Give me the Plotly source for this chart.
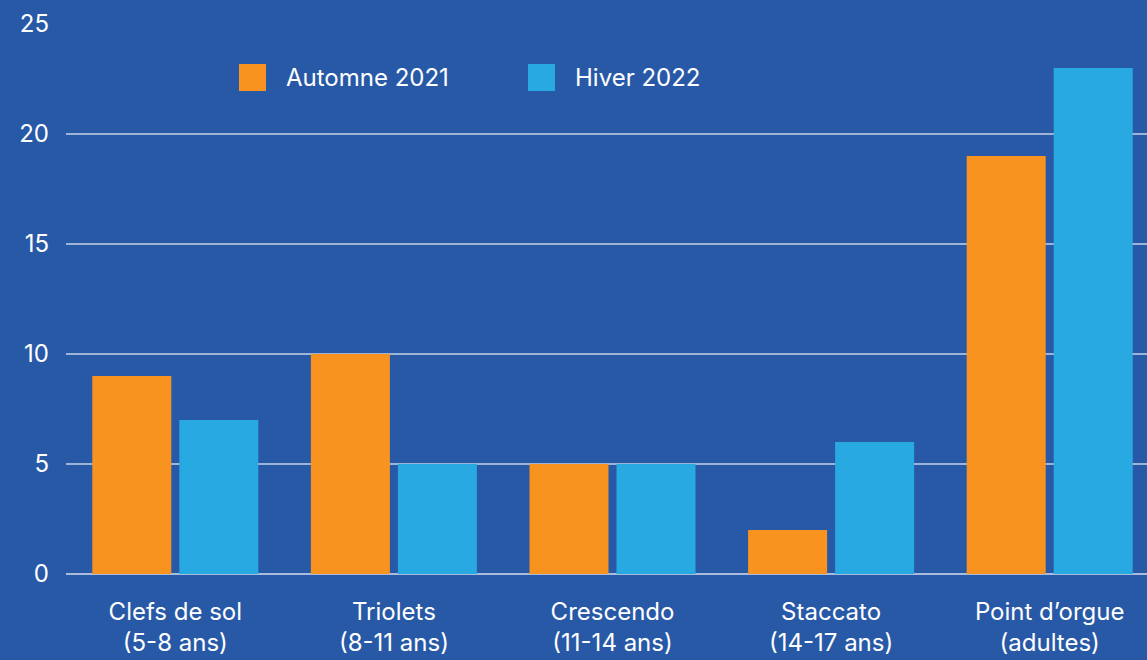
import plotly.graph_objects as go

categories = ["Clefs de sol<br>(5-8 ans)", "Triolets<br>(8-11 ans)", "Crescendo<br>(11-14 ans)",
              "Staccato<br>(14-17 ans)", "Point d\u2019orgue<br>(adultes)"]
series_names = ["Automne 2021", "Hiver 2022"]
automne_2021 = [9, 10, 5, 2, 19]
hiver_2022 = [7, 5, 5, 6, 23]
y_ticks = [0, 5, 10, 15, 20, 25]

BG = "#2859A7"
ORANGE = "#F7931E"
BLUE = "#29A9E1"
FONT = "Inter"

W, H = 1147, 660
ML, MR, MT, MB = 66, 0, 24, 86
PW, PH = W - ML - MR, H - MT - MB

fig = go.Figure()
fig.add_trace(go.Bar(x=list(range(len(categories))), y=automne_2021, name=series_names[0],
                     marker=dict(color=ORANGE, line=dict(width=0))))
fig.add_trace(go.Bar(x=list(range(len(categories))), y=hiver_2022, name=series_names[1],
                     marker=dict(color=BLUE, line=dict(width=0))))

# custom legend (large square swatches)
def px_x(p):
    return (p - ML) / PW

def px_y(p):
    return (H - MB - p) / PH

shapes = []
annotations = []
for name, color, sx, tx in [(series_names[0], ORANGE, 239, 284), (series_names[1], BLUE, 528, 573)]:
    shapes.append(dict(type="rect", xref="paper", yref="paper",
                       x0=px_x(sx), x1=px_x(sx + 27), y0=px_y(91), y1=px_y(64),
                       fillcolor=color, line=dict(width=0)))
    annotations.append(dict(text=name, xref="paper", yref="paper", x=px_x(tx), y=px_y(77.5),
                            xanchor="left", yanchor="middle", showarrow=False,
                            font=dict(family=FONT, size=24, color="white")))

fig.update_layout(
    width=W, height=H,
    margin=dict(l=ML, r=MR, t=MT, b=MB, pad=0),
    paper_bgcolor=BG, plot_bgcolor=BG,
    barmode="group", bargap=0.204, bargroupgap=0.092,
    showlegend=False,
    font=dict(family=FONT, size=24, color="white"),
    shapes=shapes, annotations=annotations,
    xaxis=dict(range=[-0.5, -0.5 + PW / 218.6], tickmode="array",
               tickvals=list(range(len(categories))), ticktext=categories,
               showgrid=False, zeroline=False, showline=False, ticks="",
               tickfont=dict(family=FONT, size=24, color="white"), ticklabelstandoff=21),
    yaxis=dict(range=[0, 25], tickmode="array", tickvals=y_ticks,
               showgrid=True, gridcolor="rgba(255,255,255,0.55)", gridwidth=2,
               zeroline=True, zerolinecolor="rgba(255,255,255,0.6)", zerolinewidth=2,
               showline=False, ticks="", ticklabelstandoff=16,
               tickfont=dict(family=FONT, size=24, color="white")),
)

fig.write_html("out.html", config={"displayModeBar": False},
               post_script="document.body.style.margin='0';document.body.style.overflow='hidden';")
